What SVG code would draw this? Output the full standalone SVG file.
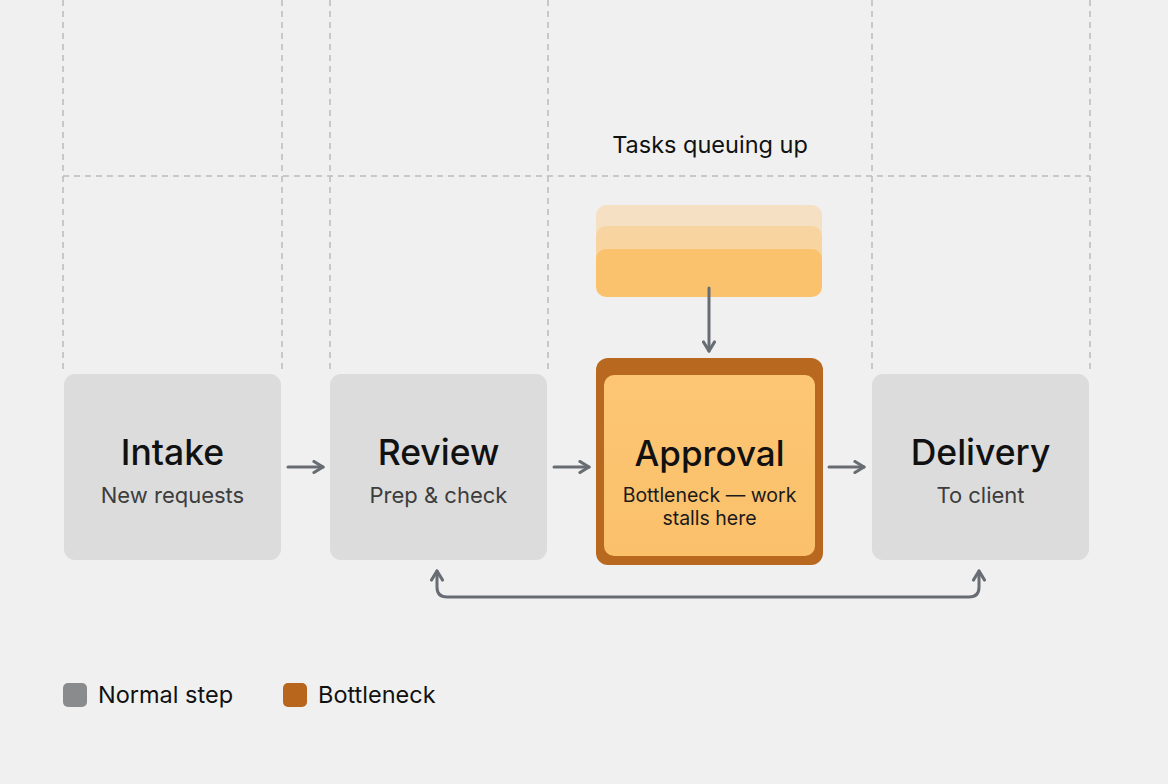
<svg xmlns="http://www.w3.org/2000/svg" width="1168" height="784" viewBox="0 0 1168 784">
<defs>
<style>
.grid{stroke:#b9bbbe;stroke-width:1.5;stroke-dasharray:6 5;fill:none}
.node{fill:#dcdcdc}
.title{font-family:Inter,"Liberation Sans",sans-serif;font-size:35.5px;font-weight:500;fill:#111;text-anchor:middle}
.sub{font-family:Inter,"Liberation Sans",sans-serif;font-size:22px;fill:#3d3d3d;text-anchor:middle}
.sub2{font-family:Inter,"Liberation Sans",sans-serif;font-size:19.5px;fill:#1a1a1a;text-anchor:middle}
.conn{stroke:#686d74;stroke-width:3;fill:none;stroke-linecap:round;stroke-linejoin:round}
.lbl{font-family:Inter,"Liberation Sans",sans-serif;font-size:23.5px;fill:#111}
</style>
<marker id="ah" viewBox="0 0 14 14" refX="11.5" refY="7" markerWidth="14" markerHeight="14" markerUnits="userSpaceOnUse" orient="auto">
<path d="M2.5,1.5 L11.5,7 L2.5,12.5" fill="none" stroke="#686d74" stroke-width="3.2" stroke-linecap="round" stroke-linejoin="round"/>
</marker>
<marker id="ahs" viewBox="0 0 14 14" refX="11.5" refY="7" markerWidth="14" markerHeight="14" markerUnits="userSpaceOnUse" orient="auto-start-reverse">
<path d="M2.5,1.5 L11.5,7 L2.5,12.5" fill="none" stroke="#686d74" stroke-width="3.2" stroke-linecap="round" stroke-linejoin="round"/>
</marker>
<linearGradient id="og" x1="0" y1="0" x2="0" y2="1">
<stop offset="0" stop-color="#fcc674"/>
<stop offset="1" stop-color="#fbc06a"/>
</linearGradient>
</defs>
<rect width="1168" height="784" fill="#f0f0f0"/>
<g id="grid">
<path class="grid" d="M63,0V372M282,0V372M330,0V372M548,0V372M872,0V372M1090,0V372M63,176H1090"/>
</g>
<text id="queue-label" class="lbl" x="710" y="153" text-anchor="middle">Tasks queuing up</text>
<g id="queue">
<rect x="596" y="205" width="226" height="48" rx="10" fill="#f5e0c4"/>
<rect x="596" y="226" width="226" height="48" rx="10" fill="#f8d4a1"/>
<rect x="596" y="249" width="226" height="48" rx="10" fill="#fbc26e"/>
</g>
<g id="intake">
<rect class="node" x="64" y="374" width="217" height="186" rx="11"/>
<text class="title" x="172.5" y="465">Intake</text>
<text class="sub" x="172.5" y="503">New requests</text>
</g>
<g id="review">
<rect class="node" x="330" y="374" width="217" height="186" rx="11"/>
<text class="title" x="438.5" y="465">Review</text>
<text class="sub" x="438.5" y="503">Prep &amp; check</text>
</g>
<g id="approval">
<rect x="596" y="358" width="227" height="207" rx="12" fill="#b8691f"/>
<rect x="604" y="375" width="211" height="181" rx="10" fill="url(#og)"/>
<text class="title" x="709.5" y="466" style="font-size:35px">Approval</text>
<text class="sub2" x="709.5" y="502">Bottleneck — work</text>
<text class="sub2" x="709.5" y="525">stalls here</text>
</g>
<g id="delivery">
<rect class="node" x="872" y="374" width="217" height="186" rx="11"/>
<text class="title" x="980.5" y="465">Delivery</text>
<text class="sub" x="980.5" y="503">To client</text>
</g>
<g id="connectors">
<path class="conn" d="M288,467H323" marker-end="url(#ah)"/>
<path class="conn" d="M554,467H589" marker-end="url(#ah)"/>
<path class="conn" d="M829,467H864" marker-end="url(#ah)"/>
<path class="conn" d="M709,288V351" marker-end="url(#ah)"/>
<path class="conn" d="M437,571V587Q437,597 447,597H969Q979,597 979,587V571" marker-start="url(#ahs)" marker-end="url(#ah)"/>
</g>
<g id="legend">
<rect x="63" y="683" width="24" height="24" rx="5" fill="#8a8b8c"/>
<text class="lbl" x="98" y="703">Normal step</text>
<rect x="283" y="683" width="24" height="24" rx="5" fill="#b8661c"/>
<text class="lbl" x="318" y="703">Bottleneck</text>
</g>
</svg>
